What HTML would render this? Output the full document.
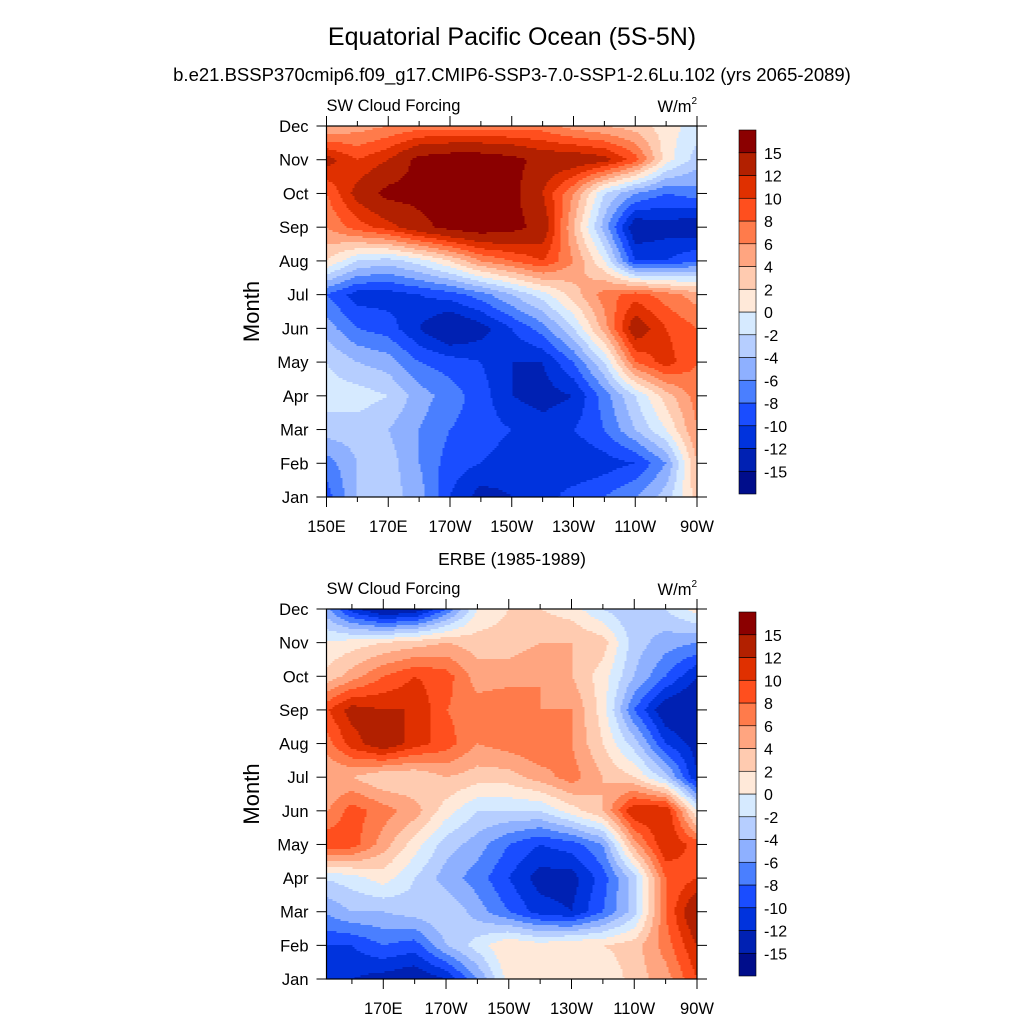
<!DOCTYPE html>
<html><head><meta charset="utf-8">
<style>
html,body{margin:0;padding:0;background:#fff;}
svg{display:block;font-family:"Liberation Sans",sans-serif;}
</style></head>
<body>
<svg id="chart" width="1024" height="1024" viewBox="0 0 1024 1024" xmlns="http://www.w3.org/2000/svg">
<rect width="1024" height="1024" fill="#fff"/>
<text x="512" y="45" font-size="25" text-anchor="middle">Equatorial Pacific Ocean (5S-5N)</text>
<text x="512" y="81" font-size="18.5" text-anchor="middle">b.e21.BSSP370cmip6.f09_g17.CMIP6-SSP3-7.0-SSP1-2.6Lu.102 (yrs 2065-2089)</text>
<text x="512" y="565" font-size="17.5" text-anchor="middle">ERBE (1985-1989)</text>
<g id="panels"></g>
</svg>
<script>
const months = ["Jan","Feb","Mar","Apr","May","Jun","Jul","Aug","Sep","Oct","Nov","Dec"];
const lons = [150,160,170,180,190,200,210,220,230,240,250,260,270];
const levels = [-15,-12,-10,-8,-6,-4,-2,0,2,4,6,8,10,12,15];
const levelLabels = ["-15","-12","-10","-8","-6","-4","-2","0","2","4","6","8","10","12","15"];
const colors = ["#000d8b","#0021b3","#0033dd","#1a4dff","#4a7fff","#8eb0ff","#b6ceff","#d6eaff","#ffe9d9","#ffcbb0","#ffa580","#ff7b4b","#ff4f1e","#e03000","#b22000","#8b0000"];
const xTickLons = [150,170,190,210,230,250,270];
const xTickLabels = ["150E","170E","170W","150W","130W","110W","90W"];
// model rows Jan..Dec, columns 150E..90W
const modelValues = [
 [-9,-4,-3,-5,-10,-13,-12,-11,-9,-8,-6,-3,3],
 [-7,-4,-3,-6,-9,-10,-11,-11,-12,-11,-10,-6,4],
 [-3,-3,-4,-6,-8,-9,-10,-11,-10,-8,-4,0,6],
 [-1,-1,-2,-5,-7,-9,-12,-13,-12,-7,-2,3,7],
 [-2,-4,-5,-8,-9,-10,-12,-12,-8,-2,8,11,8],
 [-5,-8,-9,-12,-15,-13,-10,-7,-2,5,14,10,8],
 [-8,-11,-11,-10,-9,-7,-4,-1,3,7,9,7,5],
 [2,-2,-3,-1,2,6,8,10,6,0,-10,-10,-8],
 [6,9,11,14,16,17,16,14,4,-5,-14,-13,-14],
 [8,13,16,16,17,17,16,12,6,-2,-6,-8,-7],
 [13,10,12,16,17,17,16,14,14,13,9,1,-3],
 [4,5,6,7,7,7,7,7,5,4,3,1,-1]
];
const obsValues = [
 [-10,-12,-13,-14,-12,-6,1,2,2,0,3,5,10],
 [-10,-10,-8,-9,-4,-1,2,1,2,2,3,7,12],
 [-6,-4,-4,-3,-2,-5,-8,-11,-12,-8,-3,8,15],
 [-2,-1,1,-2,-5,-7,-10,-13,-13,-9,-3,8,10],
 [10,9,5,1,-3,-5,-8,-10,-9,-6,5,12,9],
 [5,9,7,5,1,-2,-2,-2,1,4,12,12,0],
 [4,4,2,2,4,3,3,5,7,4,2,-3,-12],
 [6,11,14,11,9,6,7,8,6,2,-3,-10,-13],
 [9,13,12,12,8,7,8,6,6,1,-8,-14,-15],
 [2,5,8,10,9,5,5,6,4,1,-4,-8,-12],
 [0,1,2,3,4,3,3,4,4,3,-3,-5,-6],
 [-4,-11,-15,-14,-8,0,2,2,1,-2,-4,-2,1]
];

const NS="http://www.w3.org/2000/svg";
function mk(tag, attrs, parent){const e=document.createElementNS(NS,tag);for(const k in attrs)e.setAttribute(k,attrs[k]);parent.appendChild(e);return e;}
function colorIdx(v){let i=0;while(i<levels.length&&v>=levels[i])i++;return i;}
function sample(vals, lon, m){
  let fi=(lon-lons[0])/(lons[1]-lons[0]); fi=Math.max(0,Math.min(lons.length-1,fi));
  let i0=Math.min(Math.floor(fi),lons.length-2), tx=fi-i0;
  let fj=Math.max(0,Math.min(11,m)); let j0=Math.min(Math.floor(fj),10), ty=fj-j0;
  const a=vals[j0][i0]*(1-tx)+vals[j0][i0+1]*tx;
  const b=vals[j0+1][i0]*(1-tx)+vals[j0+1][i0+1]*tx;
  return a*(1-ty)+b*ty;
}
function panel(cfg){
  const g=document.getElementById('panels');
  const pg=mk('g',{},g);
  
  
  const L=326.5,R=697,T=cfg.top,B=cfg.bottom;
  const xs=lon=>L+(lon-cfg.xmin)/(270-cfg.xmin)*(R-L);
  const ys=m=>B-m/11*(B-T);
  const invx=px=>cfg.xmin+(px-L)/(R-L)*(270-cfg.xmin);
  const invy=py=>(B-py)/(B-T)*11;
  const field=mk('g',{'shape-rendering':'crispEdges'},pg);
  
  
  const st=2;
  for(let py=T;py<B;py+=st){
    let runStart=L,runC=-1;
    const h=Math.min(st,B-py);
    for(let px=L;px<R+st;px+=st){
      let c=-1;
      if(px<R){const v=sample(cfg.values,invx(Math.min(px+st/2,R)),invy(py+h/2));c=colorIdx(v);}
      if(c!==runC){
        if(runC>=0){const r=mk('rect',{x:runStart,y:py,width:Math.min(px,R)-runStart+0.5,height:h+0.5,fill:colors[runC]},field);
          }
        runStart=px;runC=c;
      }
    }
  }
  mk('rect',{x:L,y:T,width:R-L,height:B-T,fill:'none',stroke:'#000','stroke-width':1.2},pg);
  for(let m=0;m<12;m++){
    const y=ys(m);
    mk('line',{x1:L-10,y1:y,x2:L,y2:y,stroke:'#000'},pg);
    mk('line',{x1:R,y1:y,x2:R+10,y2:y,stroke:'#000'},pg);
    const t=mk('text',{x:L-18,y:y+6,'font-size':16.5,'text-anchor':'end'},pg);
    t.textContent=months[m];
    
    
  }
  for(let lon=150;lon<=270;lon+=10){
    if(lon<cfg.xmin-0.01)continue;
    const x=xs(lon);const major=(lon-150)%20===0;const len=major?10:5;
    mk('line',{x1:x,y1:T-len,x2:x,y2:T,stroke:'#000'},pg);
    mk('line',{x1:x,y1:B,x2:x,y2:B+len,stroke:'#000'},pg);
  }
  xTickLons.forEach((lon,i)=>{
    if(lon<cfg.xmin-0.01)return;
    const t=mk('text',{x:xs(lon),y:B+35,'font-size':16.5,'text-anchor':'middle'},pg);
    t.textContent=xTickLabels[i];
    
    
  });
  const lt=mk('text',{x:L,y:T-15,'font-size':16.5},pg);lt.textContent='SW Cloud Forcing';
  
  const rt=mk('text',{x:R,y:T-14,'font-size':16.5,'text-anchor':'end'},pg);
  rt.innerHTML='W/m<tspan font-size="10" dy="-8">2</tspan>';
  
  const yt=mk('text',{x:0,y:0,'font-size':22,'text-anchor':'middle',transform:`translate(259,${(T+B)/2}) rotate(-90)`},pg);
  yt.textContent='Month';
  const cb=mk('g',{},pg);
  
  const ct=cfg.cbTop,cbB=cfg.cbBottom,n=colors.length,bh=(cbB-ct)/n;
  for(let i=0;i<n;i++){
    const r=mk('rect',{x:739,y:cbB-(i+1)*bh,width:17,height:bh,fill:colors[i],stroke:'#000','stroke-width':0.6},cb);
    
  }
  levelLabels.forEach((lab,i)=>{
    const t=mk('text',{x:764,y:cbB-(i+1)*bh+6,'font-size':16},cb);
    t.textContent=lab;
  });
}
panel({name:'model-panel',values:modelValues,top:126,bottom:497,xmin:150,cbTop:130,cbBottom:494});
panel({name:'erbe-panel',values:obsValues,top:609,bottom:979,xmin:151.9,cbTop:612,cbBottom:976});
</script>
</body></html>
